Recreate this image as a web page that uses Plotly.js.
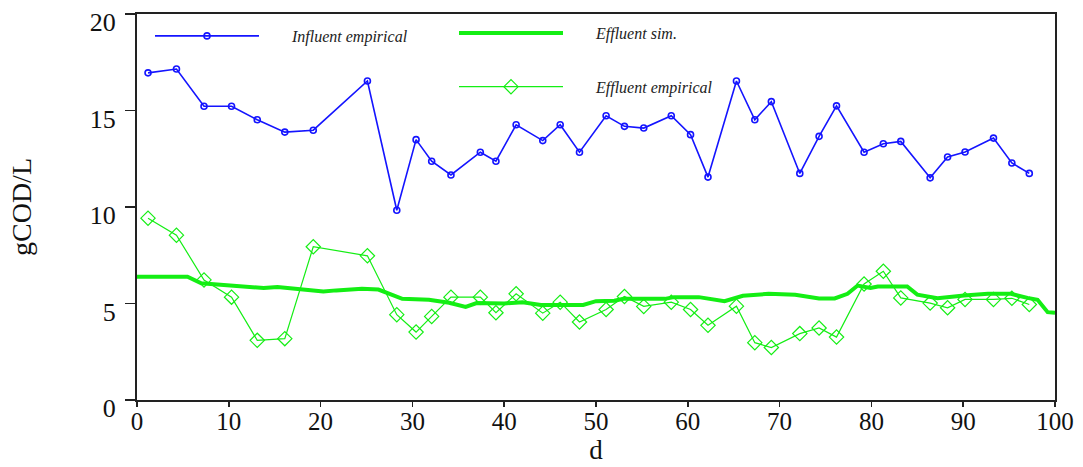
<!DOCTYPE html>
<html>
<head>
<meta charset="utf-8">
<script src="https://cdn.plot.ly/plotly-3.0.1.min.js"></script>
<style>html,body{margin:0;padding:0;background:#fff;}#chart{width:1083px;height:467px;}</style>
</head>
<body>
<div id="chart"></div>
<script>
// Sampling days (d)
var dayEmp = [1.2, 4.3, 7.3, 10.3, 13.1, 16.1, 19.2, 25.1, 28.3, 30.4, 32.1, 34.2, 37.4, 39.1, 41.3, 44.2, 46.1, 48.2, 51.1, 53.1, 55.2, 58.2, 60.3, 62.2, 65.3, 67.3, 69.1, 72.2, 74.3, 76.2, 79.2, 81.3, 83.2, 86.4, 88.3, 90.2, 93.3, 95.3, 97.2];
// Influent empirical (gCOD/L)
var influentEmp = [16.95, 17.15, 15.22, 15.22, 14.52, 13.88, 13.98, 16.53, 9.83, 13.49, 12.37, 11.66, 12.84, 12.37, 14.26, 13.44, 14.26, 12.84, 14.73, 14.18, 14.09, 14.73, 13.75, 11.55, 16.53, 14.52, 15.46, 11.74, 13.66, 15.24, 12.84, 13.28, 13.40, 11.51, 12.59, 12.85, 13.57, 12.28, 11.74];
// Effluent empirical (gCOD/L)
var effluentEmp = [9.42, 8.54, 6.22, 5.33, 3.09, 3.18, 7.94, 7.47, 4.42, 3.52, 4.33, 5.33, 5.33, 4.52, 5.50, 4.50, 5.07, 4.04, 4.69, 5.36, 4.85, 5.07, 4.69, 3.87, 4.86, 2.97, 2.72, 3.44, 3.73, 3.26, 6.01, 6.67, 5.29, 5.02, 4.78, 5.21, 5.21, 5.27, 4.95];
// Effluent simulated (gCOD/L)
var daySim = [0, 5.5, 7, 10, 13.8, 15.3, 17.8, 20.3, 21.7, 24.5, 26.3, 28.1, 28.9, 31.8, 34, 35.8, 37, 40, 42, 44, 48.6, 50, 52, 53, 57.5, 58.5, 61.2, 64, 66, 68.8, 71.7, 74.3, 76, 77.4, 78.5, 79.9, 80.7, 83.9, 85, 87.2, 88.3, 90.1, 92.7, 95.2, 97, 98.1, 99.2, 100];
var effluentSim = [6.39, 6.39, 6.05, 5.95, 5.80, 5.86, 5.72, 5.62, 5.68, 5.76, 5.72, 5.35, 5.24, 5.19, 5.04, 4.82, 5.02, 5.00, 5.07, 4.92, 4.92, 5.12, 5.14, 5.24, 5.24, 5.33, 5.33, 5.12, 5.40, 5.50, 5.45, 5.26, 5.26, 5.50, 5.93, 5.80, 5.88, 5.88, 5.46, 5.27, 5.33, 5.41, 5.50, 5.50, 5.29, 5.19, 4.55, 4.52];

var names = ['Influent empirical', 'Effluent sim.', 'Effluent empirical'];
var pad = '\u00a0\u00a0\u00a0\u00a0\u00a0\u00a0\u00a0';

var BLUE = '#1414ff';
var GREEN = '#14ee14';

var traces = [
  {x: dayEmp, y: influentEmp, type: 'scatter', mode: 'lines+markers', name: pad + names[0],
   line: {color: BLUE, width: 1.6}, marker: {symbol: 'circle-open', size: 6, color: BLUE, line: {width: 1.6, color: BLUE}},
   legend: 'legend'},
  {x: daySim, y: effluentSim, type: 'scatter', mode: 'lines', name: pad + names[1],
   line: {color: GREEN, width: 4}, legend: 'legend2', legendgroup: 'a'},
  {x: dayEmp, y: effluentEmp, type: 'scatter', mode: 'lines+markers', name: pad + names[2],
   line: {color: GREEN, width: 1.2}, marker: {symbol: 'diamond-open', size: 11, color: GREEN, line: {width: 1.2, color: GREEN}},
   legend: 'legend2', legendgroup: 'b'}
];

var legFont = {family: 'Liberation Serif', size: 16, color: '#222', style: 'italic'};
var layout = {
  width: 1083, height: 467,
  margin: {l: 137, r: 28, t: 14, b: 67},
  paper_bgcolor: '#fff', plot_bgcolor: '#fff',
  showlegend: true,
  xaxis: {
    range: [0, 100], dtick: 10, tick0: 0, ticks: 'outside', ticklen: 5, tickwidth: 1.5, tickcolor: '#222',
    showline: true, mirror: true, linecolor: '#222', linewidth: 2, showgrid: false, zeroline: false,
    ticklabelstandoff: -7, ticklabeloverflow: 'allow',
    tickfont: {family: 'Liberation Serif', size: 25, color: '#111'},
    title: {text: 'd', font: {family: 'Liberation Serif', size: 27, color: '#111'}, standoff: 6}
  },
  yaxis: {
    range: [0, 20], dtick: 5, tick0: 0, ticks: 'outside', ticklen: 10, tickwidth: 1.5, tickcolor: '#222',
    showline: true, mirror: true, linecolor: '#222', linewidth: 2, showgrid: false, zeroline: false,
    ticklabelshift: 8, ticklabelstandoff: 4, ticklabeloverflow: 'allow',
    tickfont: {family: 'Liberation Serif', size: 26, color: '#111'},
    title: {text: 'gCOD/L', font: {family: 'Liberation Serif', size: 28, color: '#111'}, standoff: 50}
  },
  legend: {x: (150 - 137) / 918, y: 1 - 5 / 386, xanchor: 'left', yanchor: 'top', bgcolor: 'rgba(0,0,0,0)', borderwidth: 0,
    font: legFont, itemwidth: 104},
  legend2: {x: (454 - 137) / 918, y: 1 - 2 / 386, xanchor: 'left', yanchor: 'top', bgcolor: 'rgba(0,0,0,0)', borderwidth: 0,
    font: legFont, itemwidth: 104, tracegroupgap: 30, traceorder: 'grouped'}
};

Plotly.newPlot('chart', traces, layout, {displayModeBar: false, staticPlot: true});
</script>
</body>
</html>
